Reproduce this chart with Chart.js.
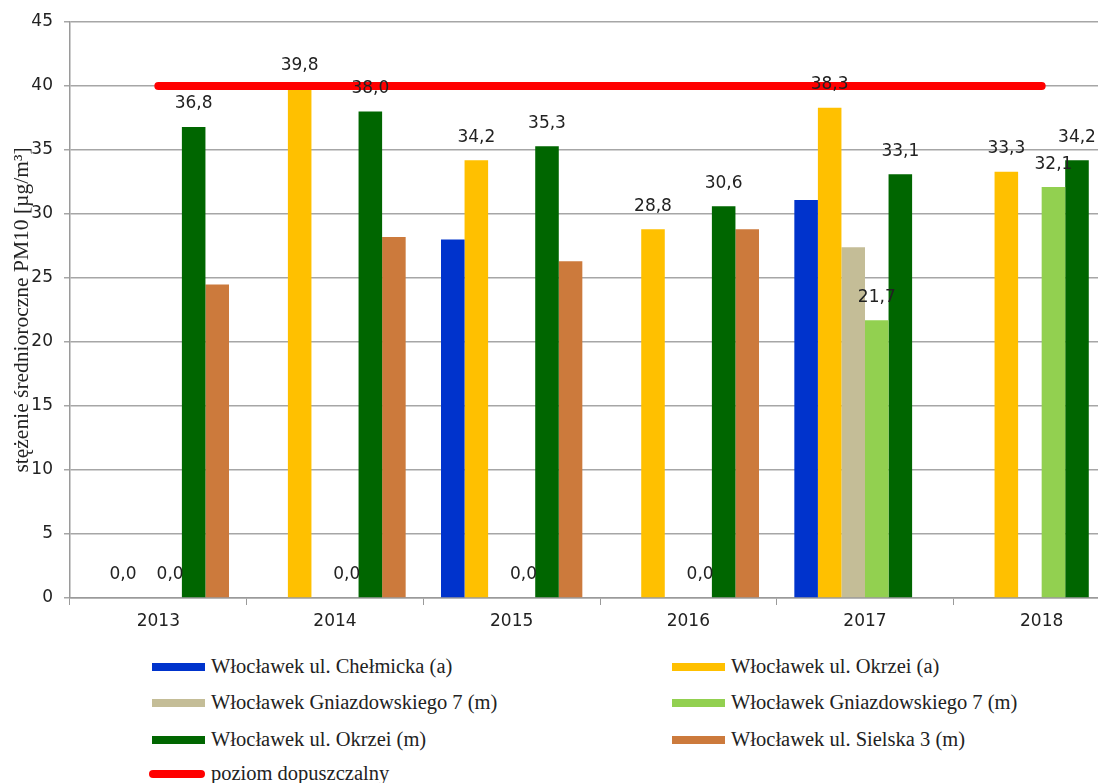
<!DOCTYPE html>
<html>
<head>
<meta charset="utf-8">
<script src="https://cdn.jsdelivr.net/npm/chart.js@4"></script>
<style>
  body { margin: 0; background: #fff; overflow: hidden; width: 1098px; height: 783px; position: relative; }
  #wrap { position: absolute; left: 0; top: 0; }
  .lg { position: absolute; font-family: "Liberation Serif", serif; font-size: 20.5px; color: #222; white-space: nowrap; }
  .lg span.sw { position: absolute; left: 0; top: 50%; margin-top: -4px; width: 53px; height: 8px; }
  .lg span.tx { position: absolute; left: 59px; top: 50%; transform: translateY(-52%); }
</style>
</head>
<body>
<div id="wrap"><canvas id="chart1" width="1140" height="640"></canvas></div>
<div id="legend"></div>
<script>
  const years = ['2013', '2014', '2015', '2016', '2017', '2018'];
  const seriesNames = [
    'Włocławek ul. Chełmicka (a)',
    'Włocławek ul. Okrzei (a)',
    'Włocławek Gniazdowskiego 7 (m)',
    'Włocławek Gniazdowskiego 7 (m)',
    'Włocławek ul. Okrzei (m)',
    'Włocławek ul. Sielska 3 (m)'
  ];
  const chelmickaA = [null, null, 28.0, null, 31.1, null];
  const okrzeiA = [0, 39.8, 34.2, 28.8, 38.3, 33.3];
  const gniazdowskiegoTan = [null, null, null, null, 27.4, null];
  const gniazdowskiegoGreen = [0, 0, 0, 0, 21.7, 32.1];
  const okrzeiM = [36.8, 38.0, 35.3, 30.6, 33.1, 34.2];
  const sielska = [24.5, 28.2, 26.3, 28.8, null, null];
  const limitName = 'poziom dopuszczalny';
  const limitValues = [40, 40, 40, 40, 40, 40];
  const yTicks = [0, 5, 10, 15, 20, 25, 30, 35, 40, 45];
  const yTitle = 'stężenie średnioroczne PM10 [µg/m³]';

  const barColors = ['#0033CC', '#FFC000', '#C4BD97', '#92D050', '#006600', '#CC7A3C'];
  const barValues = [chelmickaA, okrzeiA, gniazdowskiegoTan, gniazdowskiegoGreen, okrzeiM, sielska];
  const withLabels = [false, true, false, true, true, false];

  function fmt(v) {
    return v.toFixed(1).replace('.', ',');
  }

  // value labels above selected bars
  const barLabels = {
    id: 'barLabels',
    afterDatasetsDraw(chart) {
      const ctx = chart.ctx;
      ctx.save();
      ctx.font = '17px "DejaVu Sans"';
      ctx.fillStyle = '#222';
      ctx.textAlign = 'center';
      ctx.textBaseline = 'middle';
      chart.data.datasets.forEach((ds, i) => {
        if (!ds.showValues) return;
        chart.getDatasetMeta(i).data.forEach((bar, j) => {
          const v = ds.data[j];
          if (v === null || v === undefined) return;
          ctx.fillText(fmt(v), bar.x, bar.y - 23);
        });
      });
      ctx.restore();
    }
  };

  // y axis title, overlapping the tick labels like the original
  const axisTitle = {
    id: 'axisTitle',
    afterDraw(chart) {
      const a = chart.chartArea;
      const ctx = chart.ctx;
      ctx.save();
      ctx.translate(22, (a.top + a.bottom) / 2);
      ctx.rotate(-Math.PI / 2);
      ctx.font = '21.5px "Liberation Serif"';
      ctx.fillStyle = '#222';
      ctx.textAlign = 'center';
      ctx.textBaseline = 'middle';
      ctx.fillText(yTitle, 0, 0);
      ctx.restore();
    }
  };

  const datasets = barValues.map((vals, i) => ({
    type: 'bar',
    label: seriesNames[i],
    data: vals,
    backgroundColor: barColors[i],
    borderWidth: 0,
    showValues: withLabels[i],
    order: 2
  }));
  datasets.push({
    type: 'line',
    label: limitName,
    data: limitValues,
    borderColor: '#FF0000',
    borderWidth: 8,
    borderCapStyle: 'round',
    pointRadius: 0,
    fill: false,
    order: 1
  });

  new Chart(document.getElementById('chart1').getContext('2d'), {
    type: 'bar',
    data: { labels: years, datasets: datasets },
    plugins: [barLabels, axisTitle],
    options: {
      responsive: false,
      animation: false,
      devicePixelRatio: 1,
      layout: { padding: { top: 22, right: 10, left: 0, bottom: 0 } },
      datasets: { bar: { categoryPercentage: 0.8, barPercentage: 1.0 } },
      plugins: { legend: { display: false }, tooltip: { enabled: false } },
      scales: {
        x: {
          afterFit: function(scale) { scale.height = 42; },
          grid: { display: true, drawOnChartArea: false, offset: true, tickLength: 7, color: '#9a9a9a' },
          border: { color: '#9a9a9a', width: 1.5 },
          ticks: { color: '#222', font: { family: 'DejaVu Sans', size: 17 }, padding: 6, maxRotation: 0 }
        },
        y: {
          min: 0,
          max: 45,
          afterFit: function(scale) { scale.width = 70; },
          afterBuildTicks: function(scale) { scale.ticks = yTicks.map(v => ({ value: v })); },
          grid: { color: '#a6a6a6', lineWidth: 1.5, tickLength: 6 },
          border: { color: '#9a9a9a', width: 1.5 },
          ticks: { color: '#222', font: { family: 'DejaVu Sans', size: 17 }, padding: 11 }
        }
      }
    }
  });

  // legend, two columns
  const legendItems = seriesNames.map((n, i) => ({ text: n, color: barColors[i], line: false }));
  legendItems.push({ text: limitName, color: '#FF0000', line: true });
  const colX = [152, 672];
  const rowY = [667, 703, 740, 774];
  const legend = document.getElementById('legend');
  legendItems.forEach((item, i) => {
    const el = document.createElement('div');
    el.className = 'lg';
    el.style.left = colX[i % 2] + 'px';
    el.style.top = rowY[Math.floor(i / 2)] + 'px';
    const sw = document.createElement('span');
    sw.className = 'sw';
    sw.style.background = item.color;
    if (item.line) { sw.style.borderRadius = '4px'; sw.style.width = '56px'; sw.style.left = '-3px'; }
    const tx = document.createElement('span');
    tx.className = 'tx';
    tx.textContent = item.text;
    el.appendChild(sw);
    el.appendChild(tx);
    legend.appendChild(el);
  });
</script>
</body>
</html>
